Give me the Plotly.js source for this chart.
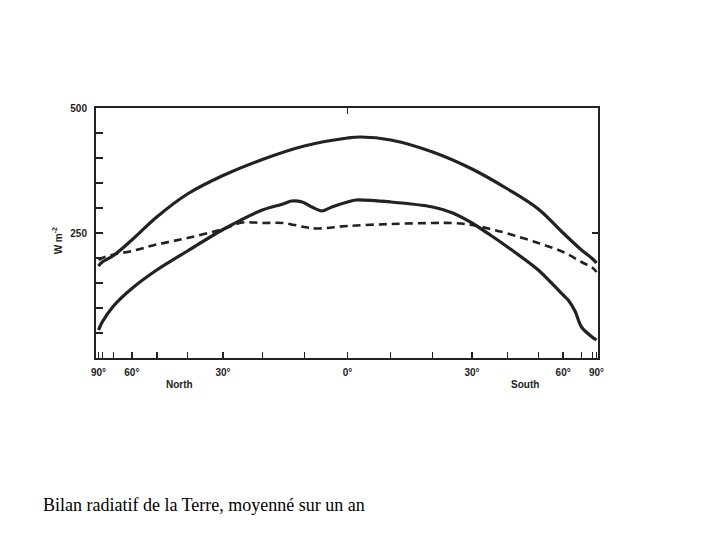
<!DOCTYPE html>
<html>
<head>
<meta charset="utf-8">
<script src="https://cdn.plot.ly/plotly-3.0.1.min.js"></script>
<style>html,body{margin:0;padding:0;background:#fff;}#chart{width:720px;height:540px;}</style>
</head>
<body>
<div id="chart"></div>
<script>
// Latitude in degrees (North positive), values in W m^-2
const upperLat = [90, 80, 70, 60, 50, 40, 30, 20, 10, 0, -3, -10, -20, -30, -40, -50, -60, -70, -80, -90];
const upperVal = [184, 192, 205, 236, 282, 328, 365, 397, 424, 440, 442, 436, 412, 378, 338, 298, 250, 216, 198, 190];

const lowerLat = [90, 80, 70, 60, 50, 40, 30, 20, 15, 13, 10.5, 8.2, 5.9, 3.6, 0, -2, -10, -20, -25, -30, -35, -40, -50, -60, -62.4, -66, -70, -80, -90];
const lowerVal = [56, 72, 104, 139, 176, 214, 257, 296, 308, 314, 312, 302, 294, 302, 312, 316, 312, 302, 290, 270, 246, 222, 176, 126, 116, 94, 62, 41, 36];

const dashLat = [90, 80, 70, 60, 50, 40, 30, 25, 20, 15, 10, 7, 0, -10, -20, -25, -30, -35, -40, -50, -60, -70, -80, -90];
const dashVal = [196, 200, 207, 214, 227, 240, 258, 271, 270, 270, 262, 259, 264, 268, 270, 270, 266, 258, 249, 230, 212, 192, 180, 172];

const tickLats = [90, 80, 70, 60, 50, 40, 30, 20, 10, 0, -10, -20, -30, -40, -50, -60, -70, -80, -90];
const tickLabels = ['90°', '', '', '60°', '', '', '30°', '', '', '0°', '', '', '30°', '', '', '60°', '', '', '90°'];
const yTicks = [0, 50, 100, 150, 200, 250, 300, 350, 400, 450, 500];
const yLabels = ['', '', '', '', '', '250', '', '', '', '', '500'];

const toSin = lat => lat.map(l => Math.sin(l * Math.PI / 180));

const ink = '#222';
const traces = [
  {x: toSin(upperLat), y: upperVal, mode: 'lines', line: {color: ink, width: 3.2, shape: 'spline', smoothing: 1}, hoverinfo: 'skip'},
  {x: toSin(lowerLat), y: lowerVal, mode: 'lines', line: {color: ink, width: 3.2, shape: 'spline', smoothing: 0.8}, hoverinfo: 'skip'},
  {x: toSin(dashLat), y: dashVal, mode: 'lines', line: {color: ink, width: 2.6, dash: '8px,5px', shape: 'spline', smoothing: 1}, hoverinfo: 'skip'},
  {x: [0], y: [0], xaxis: 'x2', yaxis: 'y2', mode: 'markers', marker: {opacity: 0}, hoverinfo: 'skip'}
];

const tickFont = {family: 'Liberation Sans, Arial, sans-serif', size: 10, color: ink, weight: 700};

const xr = [1.01, -1.006];
const layout = {
  width: 720, height: 540,
  margin: {l: 96, r: 122, t: 108, b: 182},
  paper_bgcolor: '#fff', plot_bgcolor: '#fff',
  showlegend: false,
  xaxis: {
    range: xr, tickvals: toSin(tickLats), ticktext: tickLabels,
    ticks: 'inside', ticklen: 6, tickwidth: 1.5, tickcolor: ink,
    showline: true, linewidth: 2, linecolor: ink, mirror: true,
    showgrid: false, zeroline: false, tickfont: tickFont, ticklabelstandoff: 4
  },
  yaxis: {
    range: [0, 500], tickvals: yTicks, ticktext: yLabels,
    ticks: 'inside', ticklen: 7, tickwidth: 1.5, tickcolor: ink,
    showline: true, linewidth: 2, linecolor: ink, mirror: true,
    showgrid: false, zeroline: false, tickfont: tickFont, ticklabelstandoff: 5
  },
  xaxis2: {
    overlaying: 'x', side: 'top', range: xr, tickvals: [0], showticklabels: false,
    ticks: 'inside', ticklen: 6, tickwidth: 1.5, tickcolor: ink, showgrid: false, zeroline: false, showline: false
  },
  yaxis2: {
    overlaying: 'y', side: 'right', range: [0, 500], tickvals: [250], showticklabels: false,
    ticks: 'inside', ticklen: 6, tickwidth: 1.5, tickcolor: ink, showgrid: false, zeroline: false, showline: false
  },
  annotations: [
    {text: 'North', xref: 'paper', yref: 'paper', x: 0.167, y: -0.104, showarrow: false, font: tickFont, xanchor: 'center', yanchor: 'middle'},
    {text: 'South', xref: 'paper', yref: 'paper', x: 0.855, y: -0.104, showarrow: false, font: tickFont, xanchor: 'center', yanchor: 'middle'},
    {text: 'W m<sup>-2</sup>', xref: 'paper', yref: 'paper', x: -0.078, y: 0.47, showarrow: false, textangle: -90, font: tickFont, xanchor: 'center', yanchor: 'middle'},
    {text: 'Bilan radiatif de la Terre, moyenné sur un an', xref: 'paper', yref: 'paper', x: -0.11, y: -0.588, showarrow: false, xanchor: 'left', yanchor: 'middle',
     font: {family: 'Liberation Serif, Times New Roman, serif', size: 18, color: '#000'}}
  ]
};

Plotly.newPlot('chart', traces, layout, {staticPlot: true, displayModeBar: false});
</script>
</body>
</html>
